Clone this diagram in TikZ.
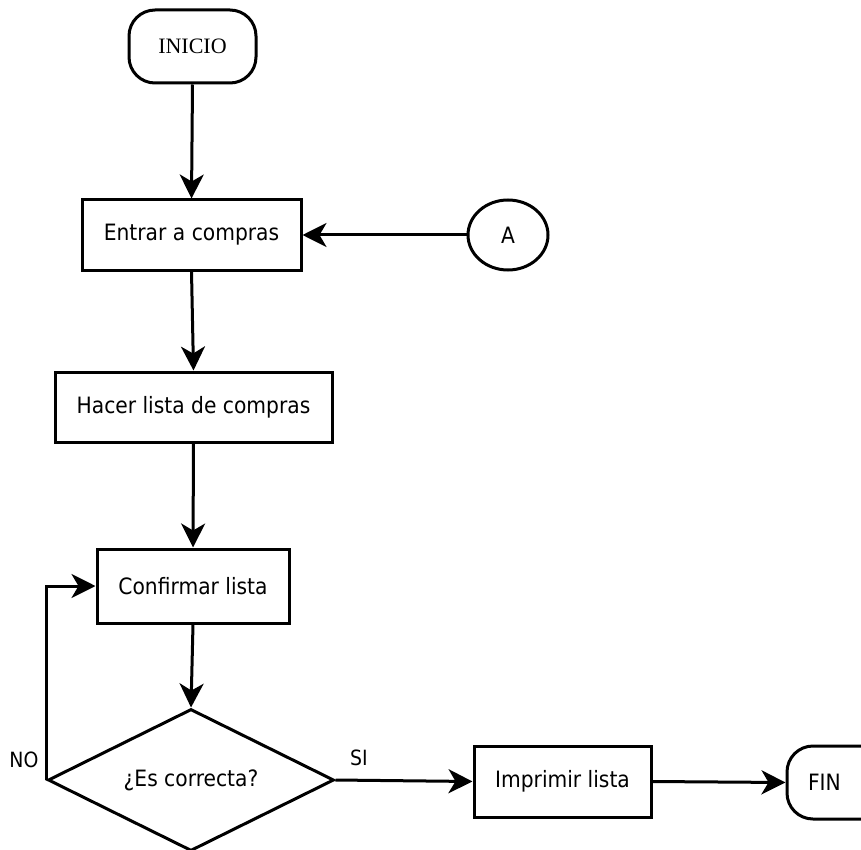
\documentclass[tikz,border=0pt]{standalone}
\usepackage{fontspec}
\setmainfont{DejaVu Sans}[FakeStretch=0.9]
\newfontfamily\serifA{Liberation Serif}
\usetikzlibrary{shapes.geometric,arrows.meta}
\begin{document}
\begin{tikzpicture}[x=1pt,y=-1pt,
  lw/.style={line width=3pt},
  txt/.style={font=\fontsize{22.5}{26}\selectfont},
  box/.style={draw,lw,rectangle,inner sep=0pt,txt},
  term/.style={draw,lw,rectangle,rounded corners=26pt,inner sep=0pt},
  conn/.style={lw,-{Stealth[length=24pt,width=24pt,inset=7pt]}},
  lbl/.style={inner sep=0pt,font=\fontsize{21}{24}\selectfont}
]
\useasboundingbox (0,0) rectangle (861,850);
\node[term,minimum width=127pt,minimum height=73pt,font=\serifA\fontsize{22}{24}\selectfont] (ini) at (192.5,46.5) {INICIO};
\node[box,minimum width=219pt,minimum height=70pt] (ent) at (191.5,235) {Entrar a compras};
\node[draw,lw,ellipse,minimum width=80pt,minimum height=70pt,inner sep=0pt,txt] (a) at (508,235) {A};
\node[box,minimum width=277pt,minimum height=70pt] (hac) at (193.5,407) {Hacer lista de compras};
\node[box,minimum width=192pt,minimum height=74pt] (con) at (193,586) {Confirmar lista};
\node[draw,lw,diamond,aspect=2.01,minimum width=286pt,minimum height=142pt,inner sep=0pt,txt] (dec) at (191,780) {¿Es correcta?};
\node[box,minimum width=177pt,minimum height=71pt] (imp) at (562.5,781.5) {Imprimir lista};
\node[term,minimum width=103pt,minimum height=73pt,text width=103pt,align=left,txt] (fin) at (838.5,782.5) {\hspace*{21pt}FIN};
\node[lbl] (no) at (24,760) {NO};
\node[lbl] (si) at (359,758) {SI};
\draw[conn] (ini.south) -- (ent.north);
\draw[conn] (a.west) -- (ent.east);
\draw[conn] (ent.south) -- (hac.north);
\draw[conn] (hac.south) -- (con.north);
\draw[conn] (con.south) -- (dec.north);
\draw[conn] (dec.west) |- (con.west);
\draw[conn] (dec.east) -- (imp.west);
\draw[conn] (imp.east) -- (fin.west);
\end{tikzpicture}
\end{document}
